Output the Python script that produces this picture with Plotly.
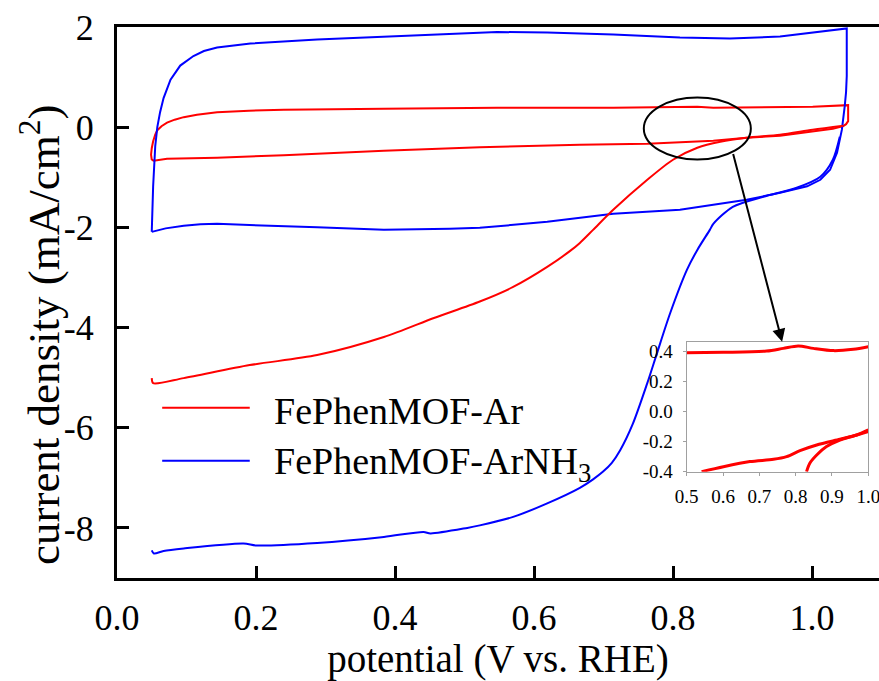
import plotly.graph_objects as go

FONT = "Liberation Serif, Times New Roman, serif"
RED = "#FF0000"
BLUE = "#0000FF"

# ---- FePhenMOF-Ar (red) ----
ar_cv_x = [0.050, 0.049, 0.050, 0.052, 0.055, 0.058, 0.064, 0.072, 0.083, 0.096, 0.115, 0.144, 0.190,
           0.240, 0.384, 0.547, 0.714, 0.835, 0.858, 1.001, 1.052, 1.052, 1.049, 1.045, 1.030,
           1.001, 0.954, 0.906, 0.858, 0.763, 0.666, 0.522, 0.384, 0.240, 0.144, 0.072, 0.053, 0.050]
ar_cv_y = [-0.65, -0.55, -0.42, -0.28, -0.15, -0.06, 0.02, 0.09, 0.15, 0.20, 0.25, 0.30, 0.33,
           0.35, 0.37, 0.39, 0.39, 0.41, 0.39, 0.41, 0.44, 0.12, 0.06, 0.02, -0.03,
           -0.08, -0.17, -0.21, -0.27, -0.33, -0.35, -0.40, -0.47, -0.56, -0.61, -0.63, -0.67, -0.65]

ar_orr_x = [0.050, 0.052, 0.096, 0.191, 0.288, 0.384, 0.456, 0.522, 0.570, 0.619, 0.652, 0.666,
            0.685, 0.714, 0.763, 0.800, 0.835, 0.868, 0.906, 0.954, 1.001, 1.045]
ar_orr_y = [-5.01, -5.11, -5.01, -4.75, -4.55, -4.19, -3.81, -3.48, -3.19, -2.79, -2.47, -2.31,
            -2.05, -1.65, -1.05, -0.65, -0.41, -0.29, -0.21, -0.15, -0.05, 0.03]

# ---- FePhenMOF-ArNH3 (blue) ----
nh3_cv_x = [0.050, 0.051, 0.052, 0.055, 0.058, 0.062, 0.067, 0.077, 0.091, 0.110, 0.125, 0.144,
            0.165, 0.192, 0.288, 0.384, 0.479, 0.547, 0.619, 0.714, 0.810, 0.882, 0.954, 1.001, 1.050,
            1.050, 1.049, 1.047, 1.043, 1.036, 1.026, 1.012, 0.993, 0.954, 0.906, 0.810, 0.714,
            0.619, 0.522, 0.479, 0.384, 0.288, 0.191, 0.144, 0.120, 0.096, 0.070, 0.050]
nh3_cv_y = [-2.09, -1.60, -1.18, -0.38, 0.00, 0.30, 0.58, 0.95, 1.23, 1.42, 1.52, 1.59,
            1.63, 1.67, 1.75, 1.81, 1.87, 1.90, 1.89, 1.85, 1.79, 1.77, 1.81, 1.89, 1.97,
            1.02, 0.70, 0.41, -0.05, -0.51, -0.85, -1.05, -1.18, -1.31, -1.45, -1.65, -1.73,
            -1.89, -2.01, -2.03, -2.05, -2.00, -1.95, -1.93, -1.94, -1.97, -2.02, -2.09]

nh3_orr_x = [0.050, 0.053, 0.067, 0.096, 0.182, 0.201, 0.288, 0.384, 0.441, 0.451, 0.504, 0.522,
             0.570, 0.619, 0.666, 0.685, 0.699, 0.712, 0.724, 0.742, 0.763, 0.777, 0.796, 0.820,
             0.835, 0.853, 0.858, 0.886, 0.930, 0.978, 1.012, 1.030, 1.040]
nh3_orr_y = [-8.45, -8.51, -8.46, -8.41, -8.31, -8.35, -8.30, -8.18, -8.08, -8.11, -8.00, -7.95,
             -7.78, -7.51, -7.20, -7.03, -6.88, -6.70, -6.45, -5.93, -5.11, -4.51, -3.71, -2.85,
             -2.45, -2.05, -1.93, -1.59, -1.39, -1.21, -0.99, -0.65, -0.19]

# ---- inset (zoom of FePhenMOF-Ar) ----
in_up_x = [0.500, 0.601, 0.720, 0.766, 0.807, 0.849, 0.904, 0.959, 1.000]
in_up_y = [0.393, 0.396, 0.404, 0.422, 0.438, 0.422, 0.407, 0.416, 0.433]
in_low_x = [0.541, 0.601, 0.674, 0.739, 0.775, 0.812, 0.858, 0.922, 0.968, 1.000]
in_low_y = [-0.400, -0.367, -0.333, -0.318, -0.300, -0.260, -0.222, -0.184, -0.156, -0.122]
in_orr_x = [0.830, 0.839, 0.858, 0.885, 0.922, 0.959, 1.000]
in_orr_y = [-0.400, -0.344, -0.289, -0.233, -0.189, -0.162, -0.133]

main_xticks = [0.0, 0.2, 0.4, 0.6, 0.8, 1.0]
main_xlabels = ["0.0", "0.2", "0.4", "0.6", "0.8", "1.0"]
main_yticks = [2, 0, -2, -4, -6, -8]
main_ylabels = ["2", "0", "-2", "-4", "-6", "-8"]
inset_xticks = [0.5, 0.6, 0.7, 0.8, 0.9, 1.0]
inset_xlabels = ["0.5", "0.6", "0.7", "0.8", "0.9", "1.0"]
inset_yticks = [0.4, 0.2, 0.0, -0.2, -0.4]
inset_ylabels = ["0.4", "0.2", "0.0", "-0.2", "-0.4"]

legend_names = ["FePhenMOF-Ar", "FePhenMOF-ArNH<sub>3</sub>"]
legend_colors = [RED, BLUE]
legend_y = [-5.66, -6.72]

x_title = "potential (V vs. RHE)"
y_title = "current density (mA/cm<sup>2</sup>)"

fig = go.Figure()
for xs, ys, c in [(ar_cv_x, ar_cv_y, RED), (nh3_cv_x, nh3_cv_y, BLUE)]:
    fig.add_trace(go.Scatter(x=xs, y=ys, mode="lines", line=dict(color=c, width=2),
                             showlegend=False, hoverinfo="skip"))
for xs, ys, c in [(ar_orr_x, ar_orr_y, RED), (nh3_orr_x, nh3_orr_y, BLUE)]:
    fig.add_trace(go.Scatter(x=xs, y=ys, mode="lines", line=dict(color=c, width=2, shape="spline", smoothing=0.8),
                             showlegend=False, hoverinfo="skip"))
for xs, ys in [(in_up_x, in_up_y), (in_low_x, in_low_y), (in_orr_x, in_orr_y)]:
    fig.add_trace(go.Scatter(x=xs, y=ys, mode="lines", line=dict(color=RED, width=3, shape="spline", smoothing=0.8),
                             xaxis="x2", yaxis="y2", showlegend=False, hoverinfo="skip"))

shapes = [dict(type="circle", xref="x", yref="y", x0=0.758, x1=0.912, y0=-0.646, y1=0.594,
               line=dict(color="black", width=2))]
annotations = [dict(x=0.957, y=-4.286, ax=0.886, ay=-0.506, xref="x", yref="y", axref="x", ayref="y",
                    text="", showarrow=True, arrowhead=2, arrowsize=1.3, arrowwidth=2, arrowcolor="black")]
for name, col, ly in zip(legend_names, legend_colors, legend_y):
    shapes.append(dict(type="line", xref="x", yref="y", x0=0.065, x1=0.191, y0=ly + 0.06, y1=ly + 0.06,
                       line=dict(color=col, width=2)))
    annotations.append(dict(x=0.223, y=ly, xref="x", yref="y", text=name, showarrow=False,
                            xanchor="left", yanchor="middle", font=dict(family=FONT, size=38, color="black")))
annotations.append(dict(x=-0.101, y=0.441, xref="paper", yref="paper", text=y_title, textangle=-90,
                        showarrow=False, xanchor="center", yanchor="middle",
                        font=dict(family=FONT, size=45, color="black")))

fig.update_layout(
    width=879, height=681,
    margin=dict(l=117, r=0, t=27, b=103, autoexpand=False),
    paper_bgcolor="white", plot_bgcolor="rgba(0,0,0,0)",
    font=dict(family=FONT, color="black"),
    xaxis=dict(range=[0, 1.0964], showline=True, linewidth=3, linecolor="black", mirror=True,
               ticks="inside", ticklen=12, tickwidth=3, tickcolor="black",
               tickvals=main_xticks, ticktext=main_xlabels, tickfont=dict(family=FONT, size=36),
               ticklabelstandoff=6, automargin=False,
               showgrid=False, zeroline=False,
               title=dict(text=x_title, font=dict(family=FONT, size=39), standoff=6)),
    yaxis=dict(range=[-9, 2], showline=True, linewidth=3, linecolor="black", mirror=False,
               ticks="inside", ticklen=12, tickwidth=3, tickcolor="black",
               tickvals=main_yticks, ticktext=main_ylabels, tickfont=dict(family=FONT, size=36),
               ticklabelstandoff=13, automargin=False,
               showgrid=False, zeroline=False),
    xaxis2=dict(domain=[0.7476, 0.986], anchor="y2", range=[0.4999, 1.0002], showline=True, linewidth=1,
                linecolor="#a0a0a0", mirror=True, ticks="outside", ticklen=3, tickcolor="#a0a0a0",
                tickvals=inset_xticks, ticktext=inset_xlabels, tickfont=dict(family=FONT, size=19),
                ticklabeloverflow="allow", ticklabelstandoff=5, automargin=False,
                showgrid=False, zeroline=False),
    yaxis2=dict(domain=[0.193, 0.429], anchor="x2", range=[-0.4002, 0.467], showline=True, linewidth=1,
                linecolor="#a0a0a0", mirror=True, ticks="outside", ticklen=3, tickcolor="#a0a0a0",
                tickvals=inset_yticks, ticktext=inset_ylabels, tickfont=dict(family=FONT, size=19),
                ticklabeloverflow="allow", ticklabelstandoff=6, automargin=False,
                showgrid=False, zeroline=False),
    shapes=shapes, annotations=annotations,
)
fig.write_html("out.html", config={"displayModeBar": False},
               post_script="document.body.style.margin='0';")
